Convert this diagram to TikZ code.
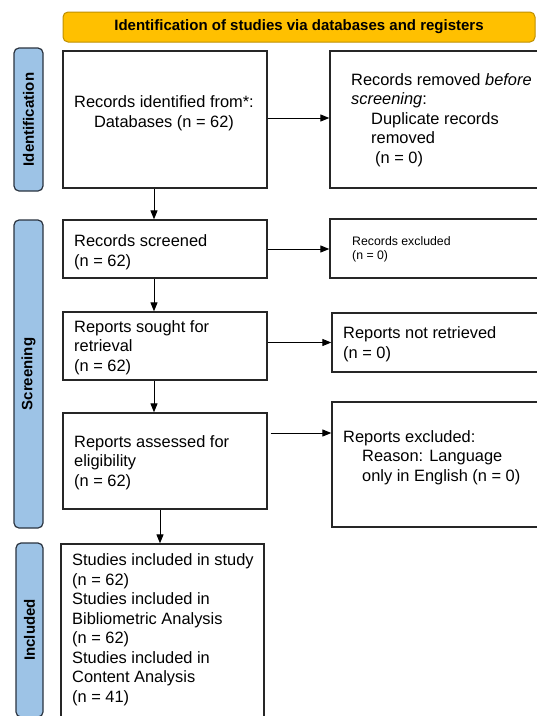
\documentclass[tikz,border=0pt]{standalone}
\usepackage{fontspec}
\setmainfont{Liberation Sans}
\usetikzlibrary{arrows.meta,calc}
\definecolor{gold}{HTML}{FFC000}
\definecolor{golddark}{HTML}{BF9000}
\definecolor{lanefill}{HTML}{9DC3E6}
\definecolor{lanedark}{HTML}{2B3440}
\newcommand{\mainfs}{\fontsize{16.4}{19.5}\selectfont}
\newcommand{\smallfs}{\fontsize{12.3}{13.5}\selectfont}
\tikzset{
  box/.style={draw=black!85, line width=1.3pt, inner sep=0pt},
  lanebox/.style={draw=lanedark, fill=lanefill, line width=1.2pt, rounded corners=5pt, inner sep=0pt},
  lanetext/.style={rotate=90, font=\fontsize{15}{17}\selectfont\bfseries, inner sep=0pt},
  txt/.style={inner sep=0pt, align=left, font=\mainfs, anchor=west},
  arr/.style={line width=1pt, -{Triangle[length=9pt,width=7pt]}},
}
\begin{document}
\begin{tikzpicture}[x=1pt,y=-1pt]
\clip (0,0) rectangle (537,716);
\fill[white] (0,0) rectangle (537,716);
% banner
\node[draw=golddark, fill=gold, line width=1pt, rounded corners=5pt,
      minimum width=472pt, minimum height=30pt, inner sep=0pt,
      font=\fontsize{15}{17}\selectfont\bfseries] (banner) at (299,27)
      {Identification of studies via databases and registers};
% lanes
\node[lanebox, minimum width=29pt, minimum height=143pt] (l1) at (28.5,119.5) {};
\node[lanetext] (l1t) at (l1) {Identification};
\node[lanebox, minimum width=29pt, minimum height=308pt] (l2) at (28.5,374) {};
\node[lanetext] (l2t) at (l2) {Screening};
\node[lanebox, minimum width=27pt, minimum height=174pt] (l3) at (29.5,630) {};
\node[lanetext] (l3t) at (29.5,630) {Included};
% boxes
\node[box, minimum width=280pt, minimum height=137pt] (b2) at (470,119.5) {};
\node[box, minimum width=204pt, minimum height=137pt] (b1) at (165,119.5) {};
\node[box, minimum width=204pt, minimum height=58pt] (b3) at (165,249) {};
\node[box, minimum width=280pt, minimum height=59pt] (b4) at (470,248.5) {};
\node[box, minimum width=204pt, minimum height=68pt] (b5) at (165,346) {};
\node[box, minimum width=278pt, minimum height=59pt] (b6) at (471,342.5) {};
\node[box, minimum width=204pt, minimum height=96pt] (b7) at (165,461) {};
\node[box, minimum width=278pt, minimum height=125pt] (b8) at (471,464.5) {};
\node[box, minimum width=203pt, minimum height=200pt] (b9) at (162.5,644) {};
% texts
\node[inner sep=0pt, align=center, font=\mainfs] (t1) at (164,113.5)
  {Records identified from*:\\Databases (n = 62)};
\node[txt] (t2) at (351,120)
  {Records removed \textit{before}\\ \textit{screening}:\\ \hspace*{20pt}Duplicate records\\ \hspace*{20pt}removed\\ \hspace*{24pt}(n = 0)};
\node[txt] (t3) at (74,252) {Records screened\\(n = 62)};
\node[txt, font=\smallfs] (t4) at (352,249.5) {Records excluded\\(n = 0)};
\node[txt] (t5) at (74,347.5) {Reports sought for\\retrieval\\(n = 62)};
\node[txt] (t6) at (343,344) {Reports not retrieved\\(n = 0)};
\node[txt] (t7) at (74,462.5) {Reports assessed for\\eligibility\\(n = 62)};
\node[txt] (t8) at (343,457.5) {Reports excluded:\\ \hspace*{19pt}Reason: Language\\ \hspace*{19pt}only in English (n = 0)};
\node[txt] (t9) at (72,629.5) {Studies included in study\\(n = 62)\\Studies included in\\Bibliometric Analysis\\(n = 62)\\Studies included in\\Content Analysis\\(n = 41)};
% arrows
\draw[arr] ([yshift=1.5pt]b1.east) -- ([yshift=1.5pt]b1.east -| b2.west);
\draw[arr] (b3.east) -- (b3.east -| b4.west);
\draw[arr] (b6.west -| b5.east) -- (b6.west);
\draw[arr] ([xshift=3pt,yshift=28pt]b7.east) -- ([yshift=28pt]b7.east -| b8.west);
\draw[arr] ([xshift=-11pt]b1.south) -- ([xshift=-11pt]b1.south |- b3.north);
\draw[arr] ([xshift=-11pt]b3.south) -- ([xshift=-11pt]b3.south |- b5.north);
\draw[arr] ([xshift=-11pt]b5.south) -- ([xshift=-11pt]b5.south |- b7.north);
\draw[arr] ([xshift=-5pt]b7.south) -- ([xshift=-5pt]b7.south |- b9.north);
\end{tikzpicture}
\end{document}
